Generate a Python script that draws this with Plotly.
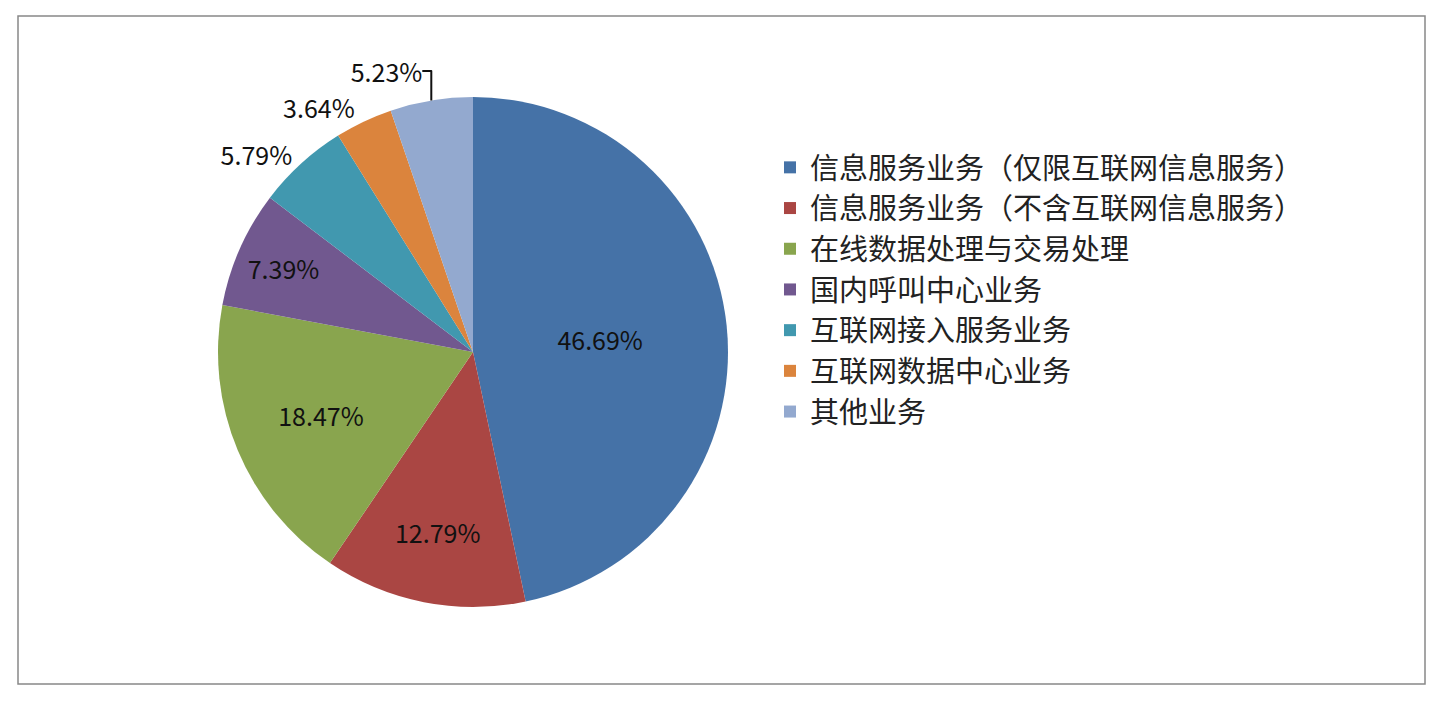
import plotly.graph_objects as go

labels = ["信息服务业务（仅限互联网信息服务）", "信息服务业务（不含互联网信息服务）",
          "在线数据处理与交易处理", "国内呼叫中心业务", "互联网接入服务业务",
          "互联网数据中心业务", "其他业务"]
values = [46.69, 12.79, 18.47, 7.39, 5.79, 3.64, 5.23]
text_pos = ["inside", "inside", "inside", "inside", "outside", "outside", "outside"]
colors = ["#4572A7", "#AA4643", "#89A54E", "#71588F", "#4198AF", "#DB843D", "#93A9CF"]

# page body adds ~8px offset, compensate in paper coordinates
W, H, OFF = 1444, 706, 8

fig = go.Figure(go.Pie(
    labels=labels, values=values, sort=False, direction="clockwise", rotation=0,
    texttemplate="%{value:.2f}%", textposition=text_pos,
    insidetextorientation="horizontal",
    textfont=dict(size=25, color="#111"),
    marker=dict(colors=colors),
    domain=dict(x=[(218 - OFF) / W, (728 - OFF) / W],
                y=[1 - (607 - OFF) / H, 1 - (97 - OFF) / H]),
))
fig.update_layout(
    width=W, height=H, margin=dict(l=0, r=0, t=0, b=0),
    paper_bgcolor="white",
    font=dict(family="Noto Sans CJK SC"),
    legend=dict(x=(770 - OFF) / W, y=1 - (142 - OFF) / H, yanchor="top",
                font=dict(size=29, color="#222"), tracegroupgap=0, itemwidth=30),
    shapes=[dict(type="rect", xref="paper", yref="paper",
                 x0=(18 - OFF) / W, x1=(1425 - OFF) / W,
                 y0=1 - (684 - OFF) / H, y1=1 - (16 - OFF) / H,
                 line=dict(color="#888", width=1.5))],
)
fig.write_html("out.html")
